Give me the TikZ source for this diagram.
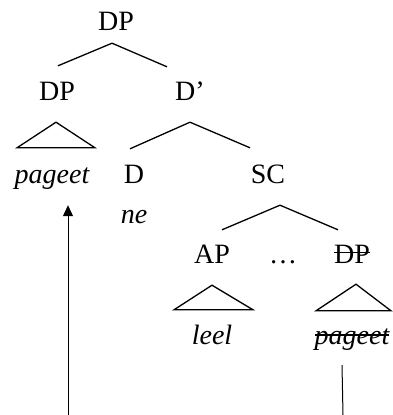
\documentclass[tikz,border=0pt]{standalone}
\usepackage{fontspec}
\setmainfont{Liberation Serif}
\usetikzlibrary{positioning,arrows.meta}
\newsavebox{\strikebox}
\newcommand{\struck}[2][0.34em]{\sbox{\strikebox}{#2}\rlap{\rule[#1]{\wd\strikebox}{0.05em}}\usebox{\strikebox}}

\begin{document}
\begin{tikzpicture}[x=1pt,y=1pt,on grid,
    cat/.style={inner sep=0pt,text height=18pt,text depth=0pt,font=\fontsize{28}{31}\selectfont},
    leaf/.style={cat,font=\fontsize{28}{31}\selectfont\itshape},
    branch/.style={line width=1.3pt},
    move/.style={line width=1pt}]
   \useasboundingbox (0,0) rectangle (393,-415);
   \node[cat] (dp0) at (116,-21) {DP};
   \node[cat] (dp1) [below left=70pt and 59pt of dp0] {DP};
   \node[cat] (dbar) [below right=70pt and 74pt of dp0] {D’};
   \node[leaf] (pg1) [below left=83pt and 5pt of dp1] {pageet};
   \node[cat] (d) [below left=83pt and 56pt of dbar] {D};
   \node[cat] (sc) [below right=83pt and 78pt of dbar] {SC};
   \node[leaf] (ne) [below=40pt of d] {ne};
   \node[cat] (ap) [below left=80pt and 56pt of sc] {AP};
   \node[cat] (dp2) [below right=80pt and 84pt of sc] {\struck{DP}};
   \node[cat] (dots) [right=71pt of ap] {\dots};
   \node[leaf] (leel) [below=81pt of ap] {leel};
   \node[leaf] (pg2) [below=81pt of dp2] {\struck[0.29em]{pageet}};
   \coordinate (footl) at (68,-415);
   \coordinate (footr) at (343,-415);
    \path[branch]
    ([shift={(-4pt,-13pt)}]dp0.south) edge ([shift={(1pt,16pt)}]dp1.north)
                                      edge ([shift={(-23pt,15pt)}]dbar.north)
    ([yshift=-22pt]dbar.south) edge ([shift={(-4pt,16pt)}]d.north)
                               edge ([shift={(-18pt,17pt)}]sc.north)
    ([shift={(12pt,-22pt)}]sc.south) edge ([shift={(10pt,15pt)}]ap.north)
                                     edge ([shift={(-14pt,15pt)}]dp2.north);
    \draw[branch] ([shift={(-1pt,-22pt)}]dp1.south) -- ([shift={(-35pt,17pt)}]pg1.north)
          -- ([shift={(43pt,17pt)}]pg1.north) -- cycle;
    \draw[branch] ([yshift=-22pt]ap.south) -- ([shift={(-38pt,16pt)}]leel.north)
          -- ([shift={(41pt,16pt)}]leel.north) -- cycle;
    \draw[branch] ([shift={(4pt,-21pt)}]dp2.south) -- ([shift={(-36pt,15pt)}]pg2.north)
          -- ([shift={(39pt,15pt)}]pg2.north) -- cycle;
    \draw[move,-{Triangle[length=11pt,width=10pt]}] (footl) -- ([shift={(16pt,-22pt)}]pg1.south);
    \draw[move] ([shift={(-10pt,-21pt)}]pg2.south) -- (footr);
\end{tikzpicture}
\end{document}
